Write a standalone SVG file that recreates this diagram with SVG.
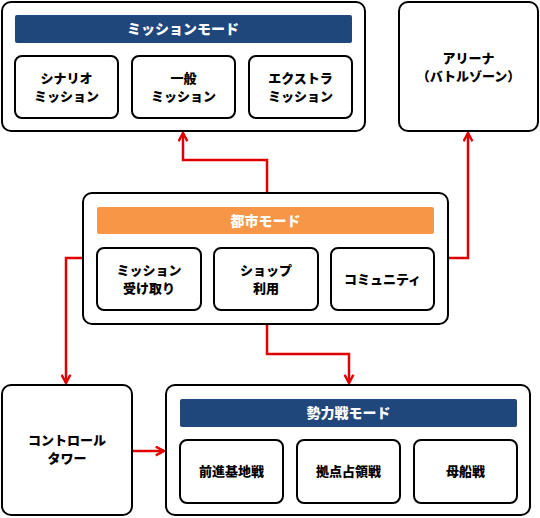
<svg xmlns="http://www.w3.org/2000/svg" width="540" height="518" viewBox="0 0 540 518">
<defs>
<style>
.box{fill:#fff;stroke:#000;stroke-width:2}
.sub{fill:#fff;stroke:#000;stroke-width:2}
.navy{fill:#1f477c}
.orange{fill:#f79646}
.t{font-family:"Liberation Sans","Noto Sans CJK JP",sans-serif;font-weight:900;font-size:13px;fill:#000;text-anchor:middle}
.h{font-family:"Liberation Sans","Noto Sans CJK JP",sans-serif;font-weight:900;font-size:14px;fill:#fff;text-anchor:middle}
.c{fill:none;stroke:#e00000;stroke-width:2.5}
</style>
<marker id="ah" viewBox="0 0 10 10" refX="8.5" refY="5" markerWidth="4.4" markerHeight="4.4" orient="auto" markerUnits="strokeWidth">
<path d="M1,1 L8.5,5 L1,9" fill="none" stroke="#e00000" stroke-width="2.2"/>
</marker>
</defs>
<rect width="540" height="518" fill="#fff"/>
<g id="connectors">
<path class="c" d="M267,193 V160 H183 V133" marker-end="url(#ah)"/>
<path class="c" d="M448,258 H468 V133" marker-end="url(#ah)"/>
<path class="c" d="M83,258 H66 V383" marker-end="url(#ah)"/>
<path class="c" d="M267,324 V354 H349 V383" marker-end="url(#ah)"/>
<path class="c" d="M132,451 H164" marker-end="url(#ah)"/>
</g>
<g id="mission-mode">
<rect class="box" x="2" y="2" width="363" height="129" rx="9"/>
<rect class="navy" x="15" y="15" width="337" height="28" rx="2"/>
<text class="h" x="183" y="34">ミッションモード</text>
</g>
<g id="scenario-mission">
<rect class="sub" x="15" y="56" width="103" height="62" rx="7"/>
<text class="t" x="66.5" y="83">シナリオ</text>
<text class="t" x="66.5" y="101">ミッション</text>
</g>
<g id="general-mission">
<rect class="sub" x="132" y="56" width="103" height="62" rx="7"/>
<text class="t" x="183.5" y="83">一般</text>
<text class="t" x="183.5" y="101">ミッション</text>
</g>
<g id="extra-mission">
<rect class="sub" x="249" y="56" width="103" height="62" rx="7"/>
<text class="t" x="300.5" y="83">エクストラ</text>
<text class="t" x="300.5" y="101">ミッション</text>
</g>
<g id="arena">
<rect class="box" x="399" y="2" width="139" height="129" rx="9"/>
<text class="t" x="468.5" y="63">アリーナ</text>
<text class="t" x="468.5" y="81">（バトルゾーン）</text>
</g>
<g id="city-mode">
<rect class="box" x="83" y="193" width="365" height="131" rx="9"/>
<rect class="orange" x="97" y="207" width="337" height="27" rx="2"/>
<text class="h" x="265.5" y="225.5">都市モード</text>
</g>
<g id="mission-receive">
<rect class="sub" x="97" y="248" width="104" height="62" rx="7"/>
<text class="t" x="149" y="275">ミッション</text>
<text class="t" x="149" y="293">受け取り</text>
</g>
<g id="shop">
<rect class="sub" x="214" y="248" width="104" height="62" rx="7"/>
<text class="t" x="266" y="275">ショップ</text>
<text class="t" x="266" y="293">利用</text>
</g>
<g id="community">
<rect class="sub" x="331" y="248" width="103" height="62" rx="7"/>
<text class="t" x="382.5" y="284">コミュニティ</text>
</g>
<g id="control-tower">
<rect class="box" x="2" y="385" width="130" height="130" rx="9"/>
<text class="t" x="67" y="445">コントロール</text>
<text class="t" x="67" y="463">タワー</text>
</g>
<g id="faction-mode">
<rect class="box" x="166" y="385" width="364" height="130" rx="9"/>
<rect class="navy" x="180" y="399" width="337" height="28" rx="2"/>
<text class="h" x="348.5" y="418">勢力戦モード</text>
</g>
<g id="advance-base">
<rect class="sub" x="180" y="440" width="103" height="63" rx="7"/>
<text class="t" x="231.5" y="476">前進基地戦</text>
</g>
<g id="base-capture">
<rect class="sub" x="297" y="440" width="103" height="63" rx="7"/>
<text class="t" x="348.5" y="476">拠点占領戦</text>
</g>
<g id="mothership">
<rect class="sub" x="414" y="440" width="103" height="63" rx="7"/>
<text class="t" x="465.5" y="476">母船戦</text>
</g>
</svg>
